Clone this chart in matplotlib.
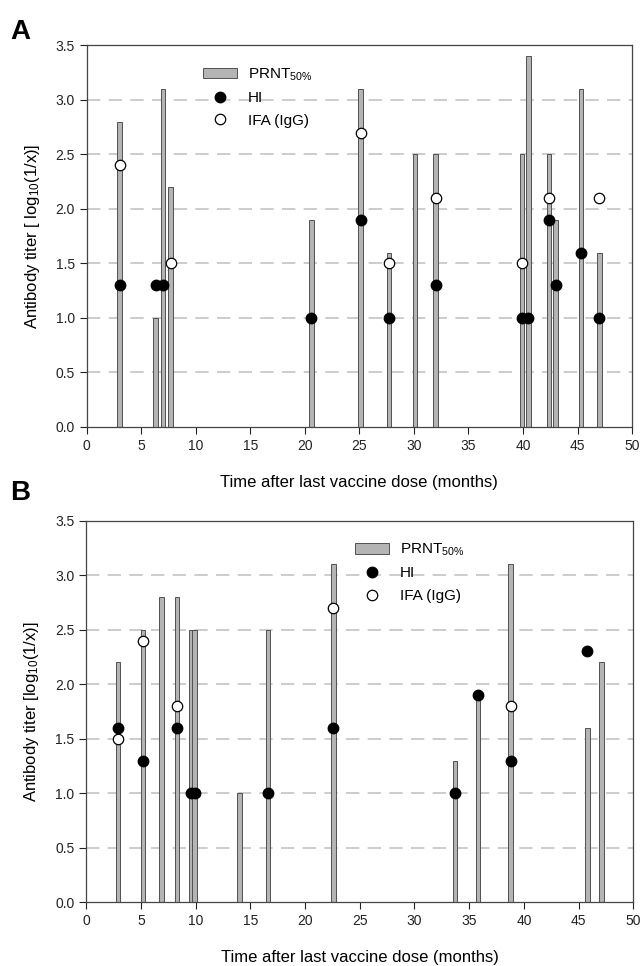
import matplotlib
matplotlib.use("Agg")
import matplotlib.pyplot as plt
from matplotlib.patches import Patch
from matplotlib.lines import Line2D

plt.rcParams['font.family'] = ['Liberation Sans', 'DejaVu Sans']
plt.rcParams['mathtext.fontset'] = 'custom'
plt.rcParams['mathtext.rm'] = 'Liberation Sans'
plt.rcParams['mathtext.it'] = 'Liberation Sans'

# panel A data (months, log10 titer)
a_prnt_x = [3.0, 6.3, 7.0, 7.7, 20.6, 25.1, 27.7, 30.1, 32.0, 39.9, 40.5, 42.4, 43.0, 45.3, 47.0]
a_prnt_y = [2.8, 1.0, 3.1, 2.2, 1.9, 3.1, 1.6, 2.5, 2.5, 2.5, 3.4, 2.5, 1.9, 3.1, 1.6]
a_hi_x = [3.0, 6.3, 7.0, 20.6, 25.1, 27.7, 32.0, 39.9, 40.5, 42.4, 43.0, 45.3, 47.0]
a_hi_y = [1.3, 1.3, 1.3, 1.0, 1.9, 1.0, 1.3, 1.0, 1.0, 1.9, 1.3, 1.6, 1.0]
a_ifa_x = [3.0, 7.7, 25.1, 27.7, 32.0, 39.9, 42.4, 47.0]
a_ifa_y = [2.4, 1.5, 2.7, 1.5, 2.1, 1.5, 2.1, 2.1]

# panel B data
b_prnt_x = [2.9, 5.2, 6.9, 8.3, 9.6, 9.9, 14.0, 16.6, 22.6, 33.7, 35.8, 38.8, 45.8, 47.1]
b_prnt_y = [2.2, 2.5, 2.8, 2.8, 2.5, 2.5, 1.0, 2.5, 3.1, 1.3, 1.9, 3.1, 1.6, 2.2]
b_hi_x = [2.9, 5.2, 8.3, 9.6, 9.9, 16.6, 22.6, 33.7, 35.8, 38.8, 45.8]
b_hi_y = [1.6, 1.3, 1.6, 1.0, 1.0, 1.0, 1.6, 1.0, 1.9, 1.3, 2.3]
b_ifa_x = [2.9, 5.2, 8.3, 22.6, 38.8]
b_ifa_y = [1.5, 2.4, 1.8, 2.7, 1.8]

x_ticks = list(range(0, 55, 5))
y_ticks = [0.0, 0.5, 1.0, 1.5, 2.0, 2.5, 3.0, 3.5]

fig = plt.figure(figsize=(6.43, 9.66), dpi=100)
axA = fig.add_axes([0.135, 0.558, 0.848, 0.395])
axB = fig.add_axes([0.134, 0.066, 0.851, 0.395])


def draw_panel(ax, px, py, hx, hy, ix, iy, ylabel, leg_pos):
    for g in y_ticks[1:-1]:
        ax.axhline(g, color='#c4c4c4', lw=1.2, dashes=(8, 5), zorder=0)
    ax.bar(px, py, width=0.42, color='#b4b4b4', edgecolor='#505050', linewidth=0.7, zorder=2)
    ax.plot(hx, hy, 'o', color='black', markersize=7.5, zorder=4)
    ax.plot(ix, iy, 'o', markerfacecolor='white', markeredgecolor='black',
            markeredgewidth=0.9, markersize=7.5, zorder=4)
    ax.set_xlim(0, 50)
    ax.set_ylim(0, 3.5)
    ax.set_xticks(x_ticks)
    ax.set_yticks(y_ticks)
    ax.set_yticklabels(['%.1f' % v for v in y_ticks])
    ax.tick_params(direction='out', length=5, width=0.8, labelsize=10, colors='#222222')
    for s in ax.spines.values():
        s.set_color('#444444')
        s.set_linewidth(0.9)
    ax.set_xlabel('Time after last vaccine dose (months)', fontsize=12, labelpad=16)
    ax.set_ylabel(ylabel, fontsize=12, labelpad=10)
    handles = [
        Patch(facecolor='#b4b4b4', edgecolor='#505050', linewidth=0.7),
        Line2D([], [], marker='o', ls='', color='black', markersize=7.5),
        Line2D([], [], marker='o', ls='', markerfacecolor='white', markeredgecolor='black',
               markeredgewidth=0.9, markersize=7.5),
    ]
    ax.legend(handles, ['PRNT$_{50\\%}$', 'HI', 'IFA (IgG)'], loc='upper left',
              bbox_to_anchor=leg_pos, frameon=False, fontsize=11,
              handlelength=2.2, handletextpad=0.7, labelspacing=0.55, borderpad=0)


draw_panel(axA, a_prnt_x, a_prnt_y, a_hi_x, a_hi_y, a_ifa_x, a_ifa_y,
           'Antibody titer [ log$_{10}$(1/x)]', (0.2, 0.965))
draw_panel(axB, b_prnt_x, b_prnt_y, b_hi_x, b_hi_y, b_ifa_x, b_ifa_y,
           'Antibody titer [log$_{10}$(1/x)]', (0.478, 0.965))

fig.text(0.016, 0.967, 'A', fontsize=20, fontweight='bold', va='center')
fig.text(0.016, 0.49, 'B', fontsize=20, fontweight='bold', va='center')

fig.savefig('out.png', dpi=100)
